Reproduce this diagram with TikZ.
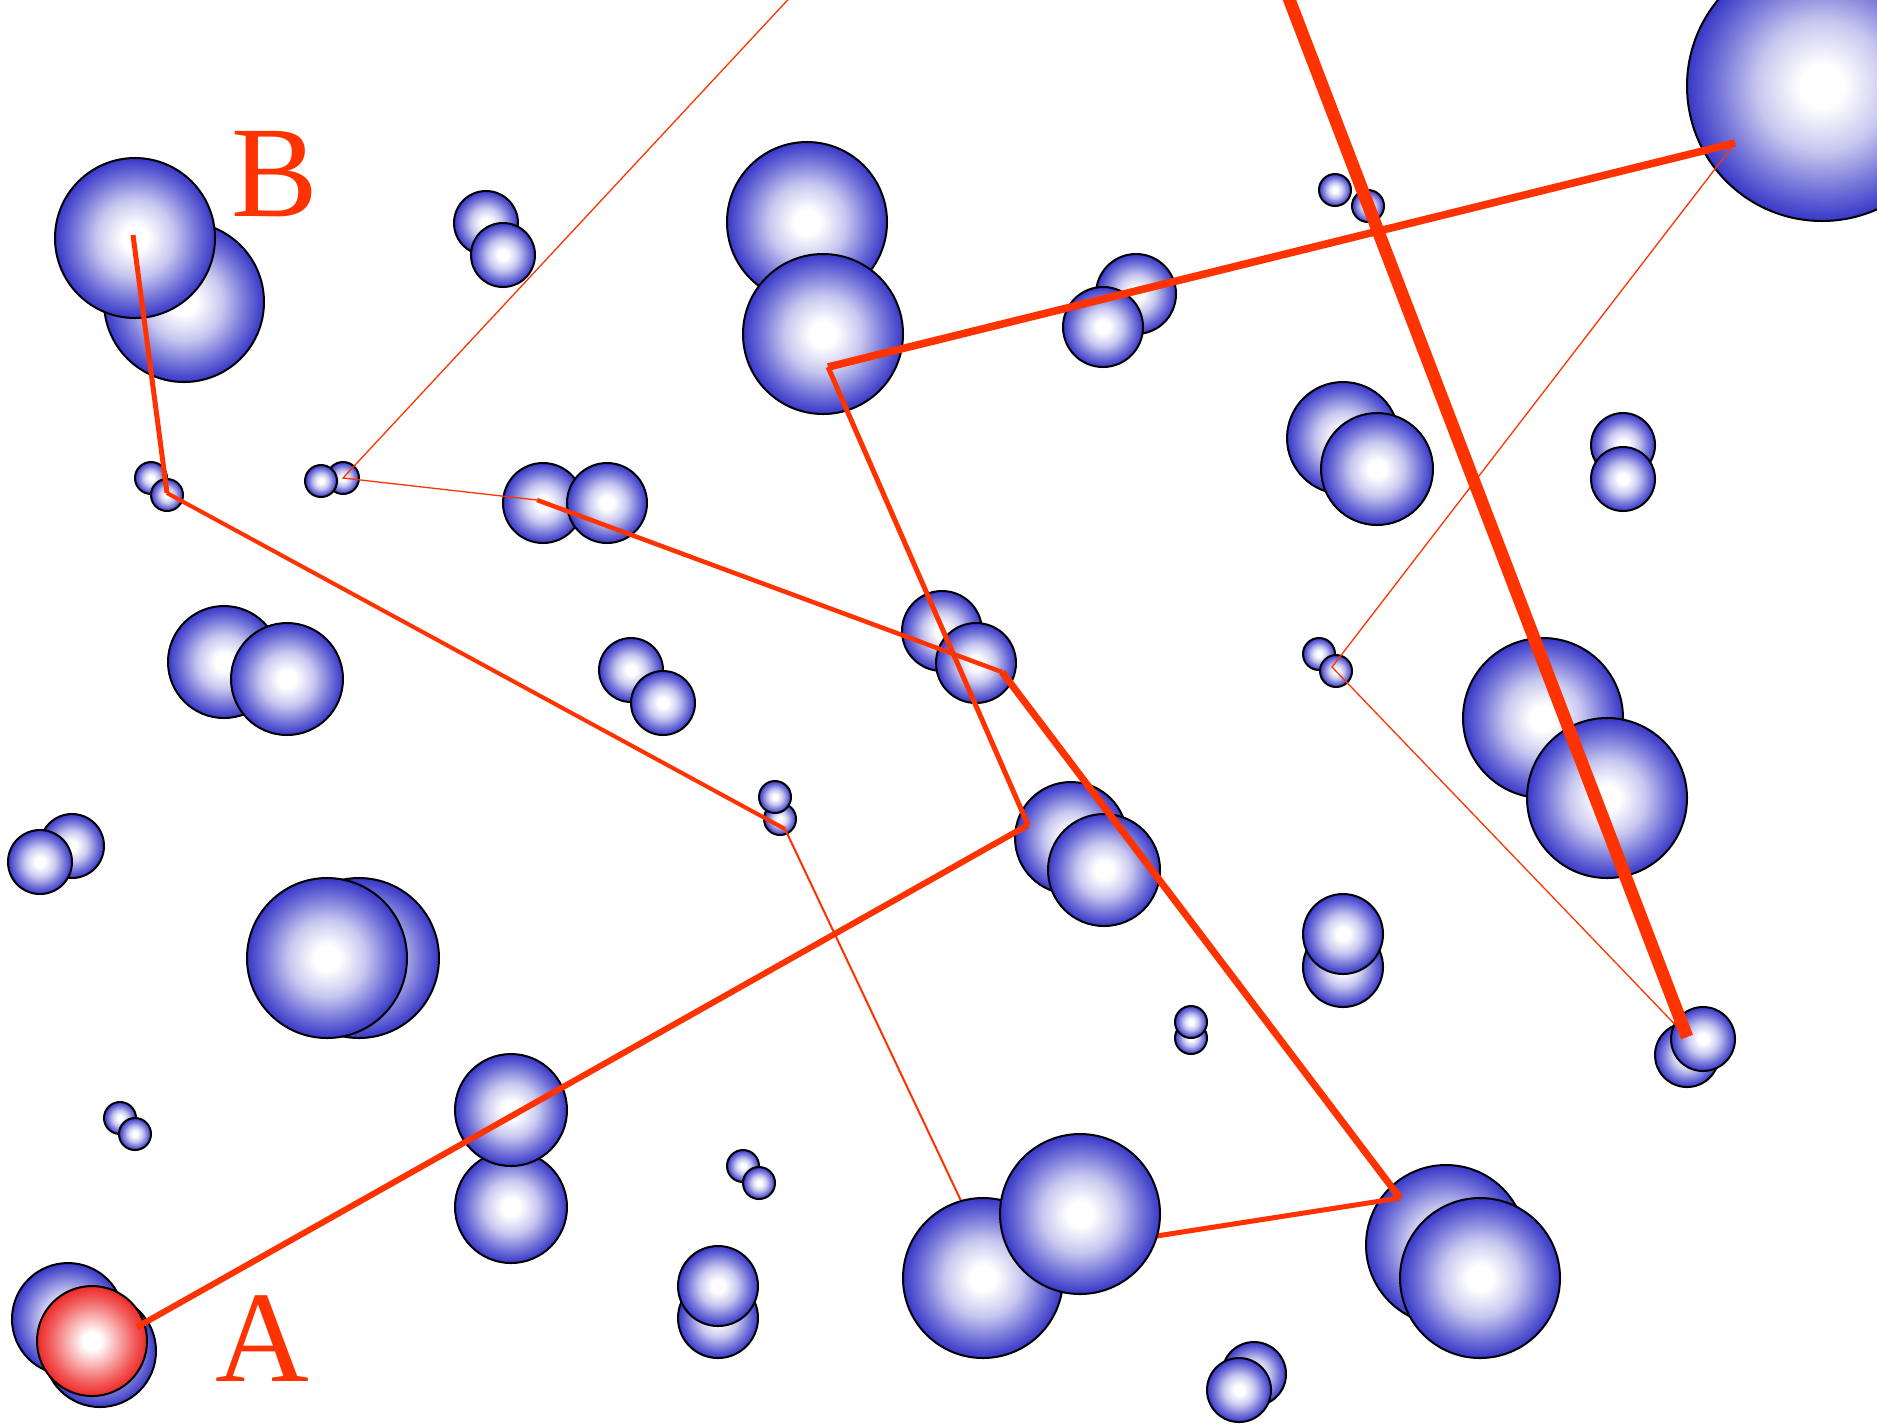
\documentclass[tikz,border=0pt]{standalone}
\usepackage{fontspec}
\setmainfont{Liberation Serif}
\definecolor{ballblue}{RGB}{55,55,200}
\definecolor{ballred}{RGB}{238,40,40}
\definecolor{pathred}{RGB}{255,51,0}
\pgfdeclareradialshading{blueball}{\pgfpoint{0bp}{0bp}}{color(0bp)=(white); color(4bp)=(white); color(12bp)=(ballblue!28!white); color(19bp)=(ballblue!68!white); color(25bp)=(ballblue); color(50bp)=(ballblue)}
\pgfdeclareradialshading{redball}{\pgfpoint{0bp}{0bp}}{color(0bp)=(white); color(4bp)=(white); color(12bp)=(ballred!40!white); color(19bp)=(ballred!75!white); color(25bp)=(ballred); color(50bp)=(ballred)}
\tikzset{
  sphere/.style={shade, shading=blueball, draw=black, line width=1pt},
  redsphere/.style={shade, shading=redball, draw=black, line width=1pt},
  trail/.style={draw=pathred, line cap=butt, line join=miter},
  bigletter/.style={text=pathred, font=\fontsize{65}{65}\selectfont, inner sep=0pt, anchor=base}
}
\newcommand\mkball[3]{\path[sphere] (#1,#2) circle[radius=#3];}
\begin{document}
\begin{tikzpicture}[x=0.5pt,y=-0.5pt]
\useasboundingbox (0,0) rectangle (1877,1426);
\clip (0,0) rectangle (1877,1426);
% spheres (back of each pair first)
\mkball{184}{302}{80}\mkball{135}{238}{80}
\mkball{486}{223}{32}\mkball{503}{255}{32}
\mkball{807}{222}{80}\mkball{823}{334}{80}
\mkball{1136}{294}{40}\mkball{1103}{327}{40}
\mkball{1335}{190}{16}\mkball{1368}{206}{16}
\mkball{1822}{86}{135}
\mkball{1343}{438}{56}\mkball{1377}{469}{56}
\mkball{1623}{445}{32}\mkball{1623}{479}{32}
\mkball{151}{478}{16}\mkball{167}{495}{16}
\mkball{343}{478}{16}\mkball{321}{481}{16}
\mkball{543}{503}{40}\mkball{607}{503}{40}
\mkball{942}{631}{40}\mkball{976}{663}{40}
\mkball{224}{662}{56}\mkball{287}{679}{56}
\mkball{631}{670}{32}\mkball{663}{703}{32}
\mkball{1319}{654}{16}\mkball{1336}{671}{16}
\mkball{1543}{718}{80}\mkball{1607}{798}{80}
\mkball{72}{846}{32}\mkball{40}{862}{32}
\mkball{780}{819}{16}\mkball{775}{797}{16}
\mkball{1071}{838}{56}\mkball{1104}{870}{56}
\mkball{359}{958}{80}\mkball{327}{958}{80}
\mkball{1343}{967}{40}\mkball{1343}{934}{40}
\mkball{1191}{1038}{16}\mkball{1191}{1022}{16}
\mkball{1687}{1055}{32}\mkball{1703}{1039}{32}
\mkball{511}{1207}{56}\mkball{511}{1110}{56}
\mkball{120}{1118}{16}\mkball{135}{1134}{16}
\mkball{743}{1166}{16}\mkball{759}{1183}{16}
\mkball{1446}{1245}{80}\mkball{1480}{1278}{80}
\mkball{718}{1318}{40}\mkball{718}{1286}{40}
\mkball{1254}{1374}{32}\mkball{1239}{1390}{32}
\mkball{68}{1319}{56}\mkball{100}{1351}{56}
\path[redsphere] (92,1341) circle[radius=55];
% path vertices
\coordinate (a0) at (137,1327);
\coordinate (c1) at (1028,825);
\coordinate (c2) at (828,367);
\coordinate (c3) at (1735,143);
\coordinate (c4) at (1332,667);
\coordinate (c5) at (1687,1037);
\coordinate (t1) at (1268,-56);
\coordinate (t2) at (836,-52);
\coordinate (c6) at (343,478);
\coordinate (c7) at (537,500);
\coordinate (c8) at (1002,672);
\coordinate (c9) at (1400,1198);
\coordinate (h) at (990,1262);
\coordinate (c10) at (785,829);
\coordinate (c11) at (167,493);
\coordinate (c12) at (133,235);
% the trail
\draw[trail, line width=3pt] (a0) -- (c1);
\draw[trail, line width=2.5pt] (c1) -- (c2);
\draw[trail, line width=3.8pt] (c2) -- (c3);
\draw[trail, line width=0.65pt] (c3) -- (c4) -- (c5);
\draw[trail, line width=6.3pt] (c5) -- (t1);
\draw[trail, line width=0.65pt] (t2) -- (c6) -- (c7);
\draw[trail, line width=2.25pt] (c7) -- (c8);
\draw[trail, line width=3.5pt] (c8) -- (c9);
\draw[trail, line width=2.5pt] (c9) -- (h);
\draw[trail, line width=1pt] (h) -- (c10);
\draw[trail, line width=2pt] (c10) -- (c11);
\draw[trail, line width=2.5pt] (c11) -- (c12);
% spheres in front of the trail
\mkball{983}{1278}{80}\mkball{1080}{1214}{80}
% labels
\node[bigletter] (labA) at (262,1381) {A};
\node[bigletter] (labB) at (275,216) {B};
\end{tikzpicture}
\end{document}
